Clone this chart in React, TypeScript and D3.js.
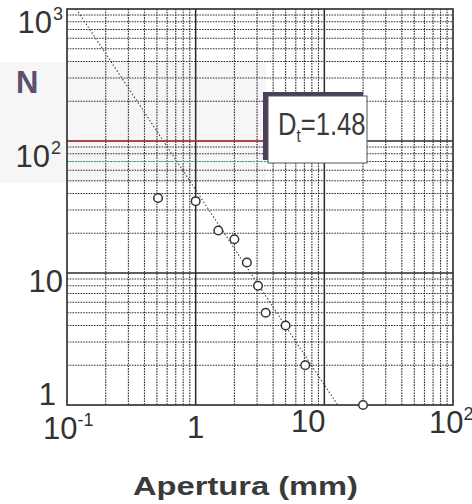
import { useEffect, useRef } from "react";
import * as d3 from "d3";

// aperture (mm) and cumulative fracture count N
const apertura = [0.51, 1.0, 1.5, 2.0, 2.5, 3.05, 3.5, 5.0, 7.1, 20];
const nFracturas = [37, 35, 21, 18, 12, 8, 5, 4, 2, 1];

// power-law fit endpoints (slope -1.48)
const ajusteX = [0.118, 12.7];
const ajusteN = [1000, 1];

const xTicks = [0.1, 1, 10, 100];
const xTickBase = ["10", "1", "10", "10"];
const xTickExp = ["-1", "", "", "2"];

const yTicks = [1000, 100, 10, 1];
const yTickBase = ["10", "10", "10", "1"];
const yTickExp = ["3", "2", "", ""];

const etiquetaAjuste = "1.48";

const App = () => {
  const svgRef = useRef<SVGSVGElement>(null);

  useEffect(() => {
    const W = 472;
    const H = 504;
    const left = 67;
    const right = 453;
    const top = 9;
    const bottom = 405;
    const font = "'Liberation Sans', Arial, sans-serif";

    const svg = d3.select(svgRef.current);
    svg.selectAll("*").remove();
    svg.attr("width", W).attr("height", H);

    svg.append("rect").attr("width", W).attr("height", H).attr("fill", "#fff");

    // faint grey patch from the scan
    svg
      .append("rect")
      .attr("x", 0)
      .attr("y", 62)
      .attr("width", 266)
      .attr("height", 121)
      .attr("fill", "#f6f6f6");

    const x = d3.scaleLog().domain([0.1, 100]).range([left, right]);
    const y = d3.scaleLog().domain([1, 1000]).range([bottom, top]);

    // grid: minor dotted, decades solid
    const minor = (dom: number[]) => {
      const out: number[] = [];
      for (let e = Math.log10(dom[0]); e < Math.log10(dom[1]); e++) {
        for (let m = 2; m <= 9; m++) out.push(m * Math.pow(10, e));
      }
      return out;
    };

    const grid = svg.append("g");
    grid
      .selectAll(".vmin")
      .data(minor([0.1, 100]))
      .enter()
      .append("line")
      .attr("x1", (d) => x(d))
      .attr("x2", (d) => x(d))
      .attr("y1", top)
      .attr("y2", bottom)
      .attr("stroke", "#2e2e2e")
      .attr("stroke-width", 1.1)
      .attr("stroke-dasharray", "1.6,1.1");
    grid
      .selectAll(".hmin")
      .data(minor([1, 1000]))
      .enter()
      .append("line")
      .attr("x1", left)
      .attr("x2", right)
      .attr("y1", (d) => y(d))
      .attr("y2", (d) => y(d))
      .attr("stroke", "#2e2e2e")
      .attr("stroke-width", 1.1)
      .attr("stroke-dasharray", "1.6,1.1");

    grid
      .selectAll(".vmaj")
      .data([1, 10])
      .enter()
      .append("line")
      .attr("x1", (d) => x(d))
      .attr("x2", (d) => x(d))
      .attr("y1", top)
      .attr("y2", bottom)
      .attr("stroke", "#2a2a2a")
      .attr("stroke-width", 1.5);
    grid
      .selectAll(".hmaj")
      .data([10, 100])
      .enter()
      .append("line")
      .attr("x1", left)
      .attr("x2", right)
      .attr("y1", (d) => y(d))
      .attr("y2", (d) => y(d))
      .attr("stroke", "#2a2a2a")
      .attr("stroke-width", 1.5);

    // scan tints on the left part
    grid
      .append("line")
      .attr("x1", left)
      .attr("x2", 268)
      .attr("y1", y(100))
      .attr("y2", y(100))
      .attr("stroke", "#c2404f")
      .attr("stroke-width", 1.6);
    grid
      .append("line")
      .attr("x1", left)
      .attr("x2", 268)
      .attr("y1", y(70))
      .attr("y2", y(70))
      .attr("stroke", "#3fae6a")
      .attr("stroke-width", 1.1)
      .attr("stroke-dasharray", "1.6,1.1");

    // frame
    svg
      .append("rect")
      .attr("x", left)
      .attr("y", top)
      .attr("width", right - left)
      .attr("height", bottom - top)
      .attr("fill", "none")
      .attr("stroke", "#2a2a2a")
      .attr("stroke-width", 1.6);

    // fit line
    svg
      .append("clipPath")
      .attr("id", "plotclip")
      .append("rect")
      .attr("x", left)
      .attr("y", top)
      .attr("width", right - left)
      .attr("height", bottom - top);

    const fit = ajusteX.map((v, i) => [v, ajusteN[i]] as [number, number]);
    svg
      .append("path")
      .attr("clip-path", "url(#plotclip)")
      .attr(
        "d",
        d3
          .line<[number, number]>()
          .x((d) => x(d[0]))
          .y((d) => y(d[1]))(fit)
      )
      .attr("fill", "none")
      .attr("stroke", "#444")
      .attr("stroke-width", 1.1)
      .attr("stroke-dasharray", "1.5,2");

    // points
    svg
      .selectAll(".pt")
      .data(apertura.map((v, i) => [v, nFracturas[i]]))
      .enter()
      .append("circle")
      .attr("cx", (d) => x(d[0]))
      .attr("cy", (d) => y(d[1]))
      .attr("r", 4.3)
      .attr("fill", "#fff")
      .attr("stroke", "#333")
      .attr("stroke-width", 1.5);

    // D_t box
    svg
      .append("rect")
      .attr("x", 263)
      .attr("y", 92)
      .attr("width", 100)
      .attr("height", 68)
      .attr("fill", "#4c3f5c");
    svg
      .append("rect")
      .attr("x", 268)
      .attr("y", 96)
      .attr("width", 99)
      .attr("height", 67)
      .attr("fill", "#fff")
      .attr("stroke", "#555")
      .attr("stroke-width", 1);
    const dt = svg
      .append("text")
      .attr("transform", "translate(278,135) scale(0.8,1)")
      .attr("font-family", font)
      .attr("font-size", 32)
      .attr("fill", "#3a3a3a");
    dt.append("tspan").text("D");
    dt.append("tspan").attr("font-size", 19).attr("dy", 7).text("t");
    dt.append("tspan").attr("dy", -7).text("=" + etiquetaAjuste);

    // y tick labels
    const yLab = svg
      .append("g")
      .attr("font-family", font)
      .attr("font-size", 31)
      .attr("fill", "#333");
    const yOffset = [24, 26, 19, 0];
    const yRight = [52, 50, 63, 56];
    yTicks.forEach((v, i) => {
      yLab
        .append("text")
        .attr("x", yRight[i])
        .attr("y", y(v) + yOffset[i])
        .attr("text-anchor", "end")
        .text(yTickBase[i]);
      if (yTickExp[i]) {
        yLab
          .append("text")
          .attr("x", yRight[i] + 1)
          .attr("y", y(v) + yOffset[i] - 13)
          .attr("font-size", 18)
          .text(yTickExp[i]);
      }
    });

    // N label
    svg
      .append("text")
      .attr("x", 16)
      .attr("y", 93)
      .attr("font-family", font)
      .attr("font-size", 31)
      .attr("font-weight", "bold")
      .attr("fill", "#5d4f6e")
      .text("N");

    // x tick labels
    const xLab = svg
      .append("g")
      .attr("font-family", font)
      .attr("font-size", 31)
      .attr("fill", "#333");
    const xStart = [43, 187, 291, 429];
    const xBase = [439, 438, 432, 433];
    xTicks.forEach((v, i) => {
      const t = xLab
        .append("text")
        .attr("x", xStart[i])
        .attr("y", xBase[i])
        .attr("data-v", v)
        .text(xTickBase[i]);
      if (xTickExp[i]) {
        t.append("tspan")
          .attr("font-size", 18)
          .attr("dy", -13)
          .text(xTickExp[i]);
      }
    });

    // axis title
    svg
      .append("text")
      .attr("x", 133)
      .attr("y", 495)
      .attr("font-family", font)
      .attr("font-size", 25)
      .attr("font-weight", "bold")
      .attr("fill", "#3a3a3a")
      .attr("textLength", 225)
      .attr("lengthAdjust", "spacingAndGlyphs")
      .text("Apertura (mm)");
  }, []);

  return (
    <svg
      ref={svgRef}
      style={{ position: "absolute", left: 0, top: 0, display: "block" }}
    ></svg>
  );
};

export default App;
